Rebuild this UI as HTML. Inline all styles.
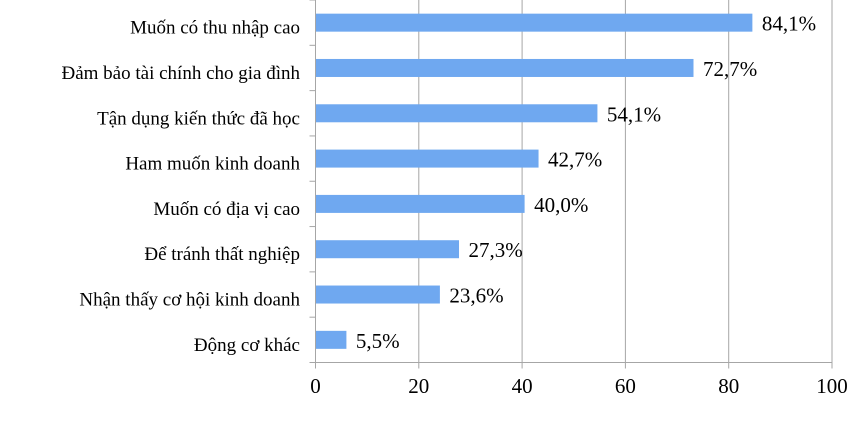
<!DOCTYPE html>
<html><head><meta charset="utf-8"><style>
body{margin:0;background:#fff;}
svg text{font-family:"Liberation Serif",serif;font-size:19px;fill:#000;}
svg text.big{font-size:21px;}
</style></head><body>
<svg id="chart" width="866" height="416" xmlns="http://www.w3.org/2000/svg"></svg>
<script>
const categories=["Muốn có thu nhập cao","Đảm bảo tài chính cho gia đình","Tận dụng kiến thức đã học","Ham muốn kinh doanh","Muốn có địa vị cao","Để tránh thất nghiệp","Nhận thấy cơ hội kinh doanh","Động cơ khác"];
const values=[84.1,72.7,54.1,42.7,40.0,27.3,23.6,5.5];
const valueLabels=["84,1%","72,7%","54,1%","42,7%","40,0%","27,3%","23,6%","5,5%"];
const ticks=[0,20,40,60,80,100];
const svg=document.getElementById('chart');
const NS='http://www.w3.org/2000/svg';
const x0=315.5,x1=832,yTop=0,yBot=362.5;
const xs=v=>x0+(x1-x0)*v/100;
const band=(yBot-yTop)/categories.length;
function mk(t,a){const e=document.createElementNS(NS,t);for(const k in a)e.setAttribute(k,a[k]);svg.appendChild(e);return e;}
ticks.forEach((t,i)=>{
  if(t>0){const g=mk('line',{x1:xs(t),x2:xs(t),y1:yTop,y2:yBot,stroke:'#a6a6a6','stroke-width':1});
  
  }
  const tk=mk('line',{x1:xs(t),x2:xs(t),y1:yBot,y2:yBot+6,stroke:'#a6a6a6'});
  
  
  const l=mk('text',{x:xs(t),y:393,'text-anchor':'middle','class':'big'});l.textContent=t;
  
  
});
for(let i=0;i<=categories.length;i++){
  const y=yTop+band*i;
  const tk=mk('line',{x1:x0-6,x2:x0,y1:y,y2:y,stroke:'#a6a6a6'});
  
  
}
const ax=mk('line',{x1:x0,x2:x0,y1:yTop,y2:yBot,stroke:'#a6a6a6'});


const bx=mk('line',{x1:x0,x2:x1,y1:yBot,y2:yBot,stroke:'#a6a6a6'});


categories.forEach((c,i)=>{
  const cy=yTop+band*(i+0.5);
  const b=mk('rect',{x:x0+0.5,y:cy-9,width:xs(values[i])-x0+2,height:18,fill:'#6fa8f0'});
  
  
  const v=mk('text',{x:xs(values[i])+12,y:cy+8,'class':'big'});v.textContent=valueLabels[i];
  
  
  const l=mk('text',{x:300,y:cy+11,'text-anchor':'end'});l.textContent=c;
  
  
});
</script>
</body></html>
